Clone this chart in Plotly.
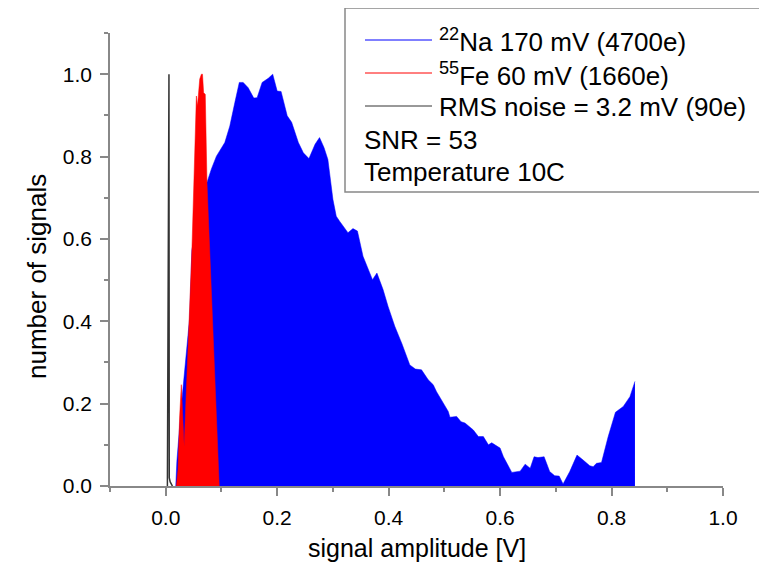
import plotly.graph_objects as go

# ---- data ----
na_x = [0.018, 0.020, 0.027, 0.034, 0.043, 0.047, 0.055, 0.065, 0.074, 0.082, 0.088, 0.091,
        0.106, 0.115, 0.124, 0.132, 0.139, 0.148, 0.158, 0.164, 0.173, 0.184, 0.192, 0.200,
        0.207, 0.218, 0.226, 0.238, 0.247, 0.257, 0.268, 0.276, 0.284, 0.291, 0.300, 0.306,
        0.312, 0.327, 0.336, 0.344, 0.354, 0.371, 0.379, 0.390, 0.399, 0.411, 0.424, 0.438,
        0.448, 0.459, 0.471, 0.480, 0.486, 0.495, 0.507, 0.510, 0.522, 0.530, 0.537, 0.552,
        0.561, 0.570, 0.579, 0.585, 0.600, 0.606, 0.621, 0.636, 0.645, 0.654, 0.661, 0.668,
        0.679, 0.689, 0.698, 0.706, 0.713, 0.725, 0.738, 0.749, 0.761, 0.767, 0.773, 0.782,
        0.794, 0.807, 0.821, 0.833, 0.842]
na_y = [0.0, 0.06, 0.18, 0.275, 0.41, 0.574, 0.62, 0.68, 0.737, 0.77, 0.793, 0.801,
        0.834, 0.874, 0.931, 0.980, 0.980, 0.967, 0.942, 0.943, 0.980, 0.990, 1.0, 0.959,
        0.958, 0.899, 0.883, 0.834, 0.809, 0.795, 0.830, 0.846, 0.822, 0.793, 0.696, 0.655,
        0.643, 0.615, 0.625, 0.619, 0.558, 0.501, 0.517, 0.477, 0.436, 0.388, 0.345, 0.294,
        0.284, 0.282, 0.258, 0.246, 0.229, 0.209, 0.181, 0.167, 0.169, 0.156, 0.153, 0.136,
        0.120, 0.120, 0.100, 0.105, 0.092, 0.071, 0.033, 0.036, 0.053, 0.043, 0.071, 0.069,
        0.071, 0.035, 0.025, 0.024, 0.005, 0.035, 0.075, 0.063, 0.049, 0.047, 0.055, 0.057,
        0.120, 0.179, 0.193, 0.217, 0.254]

fe_x = [0.019, 0.022, 0.025, 0.028, 0.033, 0.040, 0.047, 0.051, 0.055, 0.057, 0.061, 0.064,
        0.066, 0.068, 0.071, 0.074, 0.079, 0.085, 0.090, 0.096]
fe_y = [0.0, 0.04, 0.17, 0.246, 0.096, 0.33, 0.574, 0.76, 0.947, 0.923, 0.988, 1.0,
        1.0, 0.955, 0.951, 0.737, 0.574, 0.38, 0.185, 0.0]

noise_x = [0.003, 0.0058, 0.0063, 0.008, 0.012]
noise_y = [0.0, 1.0, 0.02, 0.01, 0.0]

legend_labels = ["<sup>22</sup>Na 170 mV (4700e)", "<sup>55</sup>Fe 60 mV (1660e)",
                 "RMS noise = 3.2 mV (90e)"]
legend_colors = ["#0000ff", "#ff0000", "#333333"]
extra_labels = ["SNR = 53", "Temperature 10C"]
x_title = "signal amplitude [V]"
y_title = "number of signals"

x_ticks = [0.0, 0.2, 0.4, 0.6, 0.8, 1.0]
y_ticks = [0.0, 0.2, 0.4, 0.6, 0.8, 1.0]

FONT = "Arial, Liberation Sans, sans-serif"
OFF = 8  # page offset of the figure (body margin)
W, H = 767 - OFF, 566 - OFF
L, R, T, B = 110 - OFF, 767 - 723, 33 - OFF, 566 - 486
pw, ph = W - L - R, H - T - B


def px(xp):
    return (xp - OFF - L) / pw


def py(yp):
    return (H - B - (yp - OFF)) / ph


fig = go.Figure()
fig.add_trace(go.Scatter(x=na_x, y=na_y, mode="lines", fill="tozeroy",
                         line=dict(color="#0000ff", width=0.5), fillcolor="#0000ff",
                         name=legend_labels[0], showlegend=False))
fig.add_trace(go.Scatter(x=fe_x, y=fe_y, mode="lines", fill="tozeroy",
                         line=dict(color="#ff0000", width=0.5), fillcolor="#ff0000",
                         name=legend_labels[1], showlegend=False))
fig.add_trace(go.Scatter(x=noise_x, y=noise_y, mode="lines",
                         line=dict(color="#333333", width=1.5),
                         name=legend_labels[2], showlegend=False))

shapes = [dict(type="rect", xref="paper", yref="paper",
               x0=px(345), x1=px(762), y0=py(192), y1=py(8),
               line=dict(color="#888888", width=1.5), fillcolor="white", layer="below")]
annotations = []
row_y = [41, 74, 107, 140, 172]
for i, (lab, col) in enumerate(zip(legend_labels, legend_colors)):
    shapes.append(dict(type="line", xref="paper", yref="paper",
                       x0=px(365), x1=px(432), y0=py(row_y[i] - 1), y1=py(row_y[i] - 1),
                       line=dict(color=col, width=1)))
    annotations.append(dict(text=lab, xref="paper", yref="paper", x=px(437), y=py(row_y[i]),
                            xanchor="left", yanchor="middle", showarrow=False,
                            font=dict(family=FONT, size=26, color="black")))
for j, lab in enumerate(extra_labels):
    annotations.append(dict(text=lab, xref="paper", yref="paper", x=px(362), y=py(row_y[3 + j]),
                            xanchor="left", yanchor="middle", showarrow=False,
                            font=dict(family=FONT, size=26, color="black")))

annotations.append(dict(text=x_title, xref="paper", yref="paper", x=0.5, y=py(548),
                        xanchor="center", yanchor="middle", showarrow=False,
                        font=dict(family=FONT, size=25, color="black")))
annotations.append(dict(text=y_title, xref="paper", yref="paper", x=px(37), y=py(277),
                        xanchor="center", yanchor="middle", showarrow=False, textangle=-90,
                        font=dict(family=FONT, size=26, color="black")))

axis_common = dict(showgrid=False, zeroline=False, showline=True, linecolor="#888888",
                   linewidth=1.5, ticks="outside", ticklen=8, tickcolor="#888888", tickwidth=1.5,
                   ticklabelstandoff=4,
                   tickfont=dict(family=FONT, size=21, color="black"))

fig.update_layout(
    width=W, height=H,
    margin=dict(l=L, r=R, t=T, b=B),
    plot_bgcolor="white", paper_bgcolor="white",
    shapes=shapes, annotations=annotations,
    xaxis=dict(range=[-0.1, 1.0], tickvals=x_ticks, ticktext=[f"{v:.1f}" for v in x_ticks],
               minor=dict(dtick=0.1, tick0=0.1, ticks="outside", ticklen=4,
                          tickcolor="#888888", tickwidth=1.5),
               **axis_common),
    yaxis=dict(range=[0, 1.1], tickvals=y_ticks, ticktext=[f"{v:.1f}" for v in y_ticks],
               minor=dict(dtick=0.1, tick0=0.1, ticks="outside", ticklen=4,
                          tickcolor="#888888", tickwidth=1.5),
               **axis_common),
    showlegend=False,
)

fig.write_html("out.html")
